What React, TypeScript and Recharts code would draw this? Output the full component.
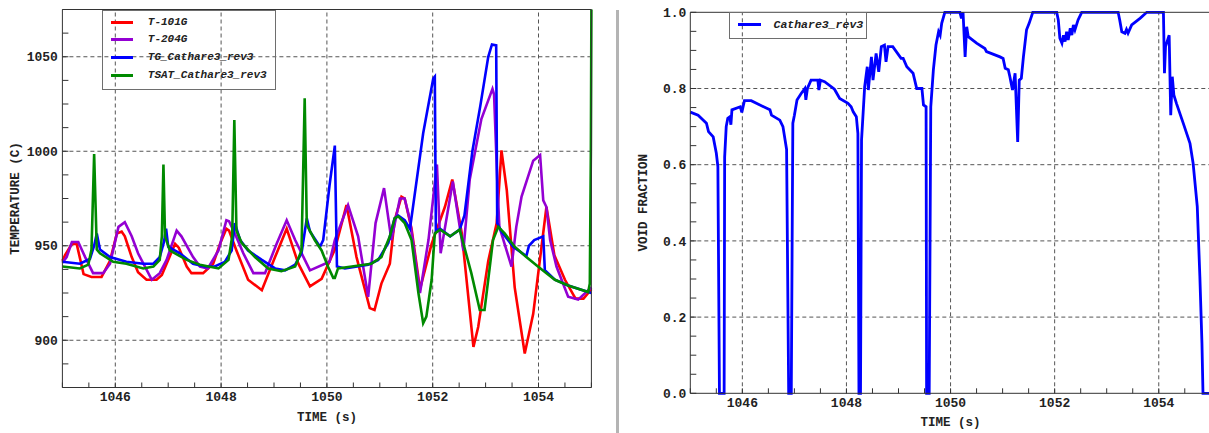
import { LineChart, Line, XAxis, YAxis, ReferenceLine } from 'recharts'

// axis ticks (minor every 0.5 s / 12.5 C / 0.05, labels on the majors)
const TIME_TICKS = [
  1045, 1045.5, 1046, 1046.5, 1047, 1047.5, 1048, 1048.5, 1049, 1049.5, 1050,
  1050.5, 1051, 1051.5, 1052, 1052.5, 1053, 1053.5, 1054, 1054.5, 1055,
]
const TIME_MAJOR = [1046, 1048, 1050, 1052, 1054]
const TEMP_TICKS = [
  875, 887.5, 900, 912.5, 925, 937.5, 950, 962.5, 975, 987.5, 1000, 1012.5,
  1025, 1037.5, 1050, 1062.5, 1075,
]
const TEMP_MAJOR = [900, 950, 1000, 1050]
const VOID_TICKS = [
  0, 0.05, 0.1, 0.15, 0.2, 0.25, 0.3, 0.35, 0.4, 0.45, 0.5, 0.55, 0.6, 0.65,
  0.7, 0.75, 0.8, 0.85, 0.9, 0.95, 1,
]
const VOID_MAJOR = [0, 0.2, 0.4, 0.6, 0.8, 1]
const VOID_GRID = [0.2, 0.4, 0.6, 0.8]

// [time (s), temperature (C)]
const T_101G = [
  [1045.0, 942], [1045.05, 945], [1045.18, 951], [1045.27, 951], [1045.4, 935],
  [1045.55, 933.5], [1045.74, 933.5], [1045.9, 942], [1046.03, 956.5], [1046.12, 957.5],
  [1046.18, 955], [1046.31, 944], [1046.43, 936], [1046.59, 932], [1046.78, 932],
  [1046.88, 934.5], [1046.97, 940.5], [1047.13, 951], [1047.2, 949], [1047.35, 939],
  [1047.44, 935.5], [1047.66, 935.5], [1047.85, 940.5], [1047.98, 951], [1048.1, 959],
  [1048.15, 958], [1048.29, 947.5], [1048.51, 932], [1048.77, 926.5], [1049.02, 944],
  [1049.24, 959], [1049.46, 940.5], [1049.68, 928.5], [1049.9, 932.5], [1050.15, 948],
  [1050.37, 971.5], [1050.56, 944], [1050.81, 917], [1050.9, 916], [1051.03, 930],
  [1051.19, 940.5], [1051.28, 963.5], [1051.41, 976], [1051.47, 975], [1051.6, 959],
  [1051.76, 927], [1051.98, 951], [1052.23, 970.5], [1052.37, 985], [1052.55, 956.5],
  [1052.77, 896.5], [1052.86, 907], [1053.05, 942], [1053.21, 962], [1053.3, 1000.5],
  [1053.4, 979.5], [1053.55, 928], [1053.74, 893], [1053.9, 914], [1054.15, 970.5],
  [1054.3, 945], [1054.5, 932], [1054.7, 922], [1054.85, 922], [1055.0, 927],
]
const T_204G = [
  [1045.0, 941], [1045.08, 944], [1045.18, 952], [1045.3, 952], [1045.43, 944],
  [1045.58, 935.5], [1045.77, 935.5], [1045.9, 940.5], [1046.06, 960], [1046.18, 962.5],
  [1046.31, 955], [1046.43, 946], [1046.69, 932], [1046.84, 935.5], [1046.97, 942.5],
  [1047.16, 958], [1047.25, 955], [1047.47, 944], [1047.6, 939], [1047.75, 938],
  [1047.95, 947.5], [1048.1, 963.5], [1048.15, 963], [1048.26, 956.5], [1048.42, 946],
  [1048.61, 935.5], [1048.83, 935.5], [1049.05, 951], [1049.24, 963.5], [1049.4, 953],
  [1049.68, 937], [1050.05, 941.5], [1050.15, 953], [1050.4, 971.5], [1050.59, 955],
  [1050.78, 923], [1050.92, 962], [1051.08, 980.5], [1051.22, 953], [1051.38, 975],
  [1051.47, 975], [1051.57, 963.5], [1051.76, 925], [1051.92, 953], [1052.08, 993],
  [1052.15, 946], [1052.38, 984], [1052.58, 947.5], [1052.7, 985], [1052.92, 1017],
  [1053.13, 1033], [1053.16, 1030], [1053.22, 985], [1053.26, 960], [1053.49, 939],
  [1053.58, 960], [1053.68, 976], [1053.9, 995], [1054.03, 998], [1054.09, 974],
  [1054.15, 970.5], [1054.22, 953], [1054.34, 939], [1054.56, 923], [1054.75, 921.5],
  [1054.94, 926.5], [1055.0, 928],
]
const TG_CATHARE = [
  [1045.0, 941.5], [1045.33, 940.5], [1045.52, 943], [1045.6, 950], [1045.65, 956.5],
  [1045.71, 948], [1045.9, 944], [1046.21, 941.5], [1046.53, 940.5], [1046.72, 940.5],
  [1046.84, 944], [1046.92, 952], [1046.96, 959], [1047.0, 949.5], [1047.22, 946],
  [1047.47, 940.5], [1047.69, 939], [1047.88, 939], [1048.07, 941.5], [1048.2, 947.5],
  [1048.26, 962], [1048.36, 953], [1048.51, 947.5], [1048.77, 942.5], [1049.02, 938],
  [1049.21, 937], [1049.4, 940], [1049.52, 946], [1049.62, 964.5], [1049.68, 957.5],
  [1049.87, 949.5], [1049.93, 953], [1049.98, 965], [1050.05, 982], [1050.15, 1003],
  [1050.19, 939], [1050.34, 938], [1050.78, 940], [1050.97, 942.5], [1051.16, 951.5],
  [1051.28, 964.5], [1051.35, 966], [1051.47, 963.5], [1051.57, 959], [1051.6, 965],
  [1051.82, 1009.5], [1052.01, 1038.5], [1052.04, 1039.5], [1052.06, 958], [1052.14, 959],
  [1052.33, 955], [1052.51, 958.5], [1052.6, 966], [1052.75, 1000], [1052.9, 1024],
  [1053.05, 1050], [1053.12, 1056.5], [1053.2, 1056], [1053.22, 962], [1053.3, 957.5],
  [1053.52, 949.5], [1053.77, 944.5], [1053.82, 950], [1053.92, 953], [1054.09, 955],
  [1054.12, 937], [1054.31, 932], [1054.56, 929], [1054.94, 925.5], [1055.0, 925],
]
const TSAT_CATHARE = [
  [1045.0, 939], [1045.33, 938], [1045.49, 940], [1045.55, 948], [1045.6, 998.5],
  [1045.65, 948], [1045.71, 946], [1045.96, 941.5], [1046.21, 940.5], [1046.53, 938],
  [1046.72, 939], [1046.84, 942.5], [1046.88, 955], [1046.91, 993], [1046.94, 955],
  [1047.03, 947.5], [1047.35, 942.5], [1047.6, 940], [1047.95, 938], [1048.14, 942.5],
  [1048.21, 955], [1048.25, 1016.5], [1048.29, 958], [1048.39, 951.5], [1048.64, 944],
  [1048.89, 938], [1049.14, 936.5], [1049.4, 939], [1049.52, 947.5], [1049.58, 1028],
  [1049.62, 961], [1049.77, 953], [1049.9, 947.5], [1050.02, 939], [1050.12, 933],
  [1050.15, 933], [1050.21, 938], [1050.47, 939], [1050.84, 940.5], [1051.03, 944],
  [1051.19, 955], [1051.28, 964.5], [1051.35, 965.5], [1051.47, 962], [1051.6, 953],
  [1051.73, 925], [1051.82, 909], [1051.88, 912.5], [1051.98, 932], [1052.04, 956.5],
  [1052.14, 958.5], [1052.33, 955], [1052.51, 958.5], [1052.73, 935.5], [1052.89, 916],
  [1052.98, 916], [1053.08, 939], [1053.14, 953], [1053.24, 960], [1053.36, 956.5],
  [1053.55, 949.5], [1053.77, 944], [1053.99, 939], [1054.15, 935.5], [1054.31, 932],
  [1054.56, 929], [1054.94, 925.5], [1054.97, 930], [1054.99, 1000], [1055.0, 1075],
]

// [time (s), void fraction]
const VOID_CATHARE = [
  [1045.0, 0.738], [1045.15, 0.73], [1045.31, 0.709], [1045.35, 0.687], [1045.44, 0.673],
  [1045.5, 0.63], [1045.53, 0.595], [1045.56, 0], [1045.65, 0], [1045.66, 0.62],
  [1045.69, 0.7], [1045.72, 0.722], [1045.76, 0.726], [1045.78, 0.705], [1045.8, 0.744],
  [1045.96, 0.752], [1045.99, 0.737], [1046.04, 0.768], [1046.17, 0.768], [1046.53, 0.744],
  [1046.56, 0.73], [1046.72, 0.717], [1046.78, 0.7], [1046.85, 0.64], [1046.89, 0],
  [1046.94, 0], [1046.97, 0.709], [1047.0, 0.73], [1047.05, 0.77], [1047.13, 0.787],
  [1047.2, 0.8], [1047.22, 0.77], [1047.25, 0.8], [1047.32, 0.822], [1047.45, 0.822],
  [1047.47, 0.796], [1047.5, 0.822], [1047.58, 0.818], [1047.77, 0.798], [1047.87, 0.774],
  [1048.03, 0.761], [1048.09, 0.752], [1048.13, 0.739], [1048.19, 0.726], [1048.22, 0.682],
  [1048.24, 0], [1048.27, 0], [1048.29, 0.665], [1048.35, 0.805], [1048.4, 0.857],
  [1048.42, 0.796], [1048.48, 0.883], [1048.51, 0.822], [1048.57, 0.892], [1048.62, 0.844],
  [1048.67, 0.91], [1048.73, 0.914], [1048.76, 0.87], [1048.8, 0.91], [1048.89, 0.91],
  [1049.05, 0.879], [1049.09, 0.879], [1049.16, 0.857], [1049.28, 0.84], [1049.35, 0.8],
  [1049.45, 0.8], [1049.48, 0.757], [1049.53, 0.752], [1049.54, 0], [1049.59, 0],
  [1049.62, 0.752], [1049.67, 0.849], [1049.72, 0.914], [1049.77, 0.949], [1049.8, 0.94],
  [1049.83, 0.971], [1049.89, 1.0], [1050.18, 1.0], [1050.21, 0.984], [1050.24, 1.0],
  [1050.28, 0.883], [1050.31, 0.962], [1050.34, 0.936], [1050.5, 0.919], [1050.66, 0.905],
  [1050.69, 0.897], [1050.95, 0.883], [1051.01, 0.879], [1051.05, 0.853], [1051.11, 0.849],
  [1051.14, 0.831], [1051.19, 0.796], [1051.24, 0.84], [1051.29, 0.66], [1051.32, 0.822],
  [1051.36, 0.827], [1051.4, 0.883], [1051.46, 0.954], [1051.51, 0.971], [1051.58, 1.0],
  [1052.04, 1.0], [1052.07, 0.98], [1052.1, 0.932], [1052.14, 0.919], [1052.17, 0.94],
  [1052.2, 0.923], [1052.23, 0.949], [1052.26, 0.927], [1052.3, 0.958], [1052.33, 0.94],
  [1052.36, 0.967], [1052.39, 0.954], [1052.45, 0.98], [1052.52, 1.0], [1053.22, 1.0],
  [1053.25, 0.98], [1053.29, 0.949], [1053.35, 0.945], [1053.38, 0.955], [1053.41, 0.945],
  [1053.48, 0.967], [1053.64, 0.984], [1053.77, 1.0], [1054.09, 1.0], [1054.11, 0.84],
  [1054.13, 0.91], [1054.2, 0.94], [1054.23, 0.73], [1054.26, 0.831], [1054.29, 0.783],
  [1054.34, 0.761], [1054.47, 0.709], [1054.6, 0.656], [1054.66, 0.604], [1054.74, 0.49],
  [1054.79, 0.306], [1054.83, 0.131], [1054.85, 0], [1055.0, 0],
]

const TEMP_SERIES = [
  { name: 'T-101G', color: '#ff0000', data: T_101G },
  { name: 'T-204G', color: '#9400d3', data: T_204G },
  { name: 'TG_Cathare3_rev3', color: '#0000ff', data: TG_CATHARE },
  { name: 'TSAT_Cathare3_rev3', color: '#008a00', data: TSAT_CATHARE },
]
const VOID_SERIES = [{ name: 'Cathare3_rev3', color: '#0000ff', data: VOID_CATHARE }]

const toPoints = (rows: number[][]) => rows.map(([t, v]) => ({ t, v }))

const MONO = "'Liberation Mono', 'DejaVu Sans Mono', monospace"
const tickStyle = { fill: '#222', fontSize: 13, fontFamily: MONO, fontWeight: 'bold' as const }
const titleStyle = { fontSize: 12.5, fontFamily: MONO, fontWeight: 'bold' as const, fill: '#222' }
const AXIS = '#333'
const GRID = '#555'

const isIn = (list: number[], v: number) => list.some((m) => Math.abs(m - v) < 1e-9)
const timeFmt = (v: number) => (isIn(TIME_MAJOR, v) ? String(v) : '')
const tempFmt = (v: number) => (isIn(TEMP_MAJOR, v) ? String(v) : '')
const voidFmt = (v: number) => (isIn(VOID_MAJOR, v) ? v.toFixed(1) : '')
const blank = () => ''

function LegendBox({
  items,
  left,
  top,
  width,
  height,
  rowTop,
  rowGap,
  lineLeft,
  lineWidth,
  textLeft,
  fontSize,
}: {
  items: { name: string; color: string }[]
  left: number
  top: number
  width: number
  height: number
  rowTop: number
  rowGap: number
  lineLeft: number
  lineWidth: number
  textLeft: number
  fontSize: number
}) {
  return (
    <div
      style={{
        position: 'absolute',
        left,
        top,
        width,
        height,
        border: '1.5px solid #6e6e6e',
        boxSizing: 'border-box',
      }}
    >
      {items.map((s, i) => {
        const cy = rowTop + i * rowGap
        return (
          <div key={s.name}>
            <div
              style={{
                position: 'absolute',
                left: lineLeft,
                top: cy - 1.5,
                width: lineWidth,
                height: 3,
                background: s.color,
              }}
            />
            <div
              style={{
                position: 'absolute',
                left: textLeft,
                top: cy - fontSize / 2 - 1,
                fontFamily: MONO,
                fontSize,
                lineHeight: `${fontSize + 2}px`,
                fontWeight: 'bold',
                fontStyle: 'italic',
                color: '#222',
                whiteSpace: 'nowrap',
              }}
            >
              {s.name}
            </div>
          </div>
        )
      })}
    </div>
  )
}

function TemperatureChart() {
  return (
    <LineChart width={600} height={433} margin={{ top: 9.5, right: 8.6, bottom: 0, left: 0 }}>
      <XAxis
        dataKey="t"
        type="number"
        domain={[1045, 1055]}
        ticks={TIME_TICKS}
        interval={0}
        tickFormatter={timeFmt}
        tickSize={-5}
        tickMargin={9.5}
        height={45.5}
        stroke={AXIS}
        tick={tickStyle}
        label={{ value: 'TIME (s)', position: 'insideBottom', offset: 12.5, style: titleStyle }}
      />
      <XAxis
        xAxisId="top"
        orientation="top"
        mirror
        type="number"
        domain={[1045, 1055]}
        ticks={TIME_TICKS}
        interval={0}
        tickFormatter={blank}
        tickSize={5}
        stroke={AXIS}
      />
      <YAxis
        type="number"
        domain={[875, 1075]}
        ticks={TEMP_TICKS}
        interval={0}
        tickFormatter={tempFmt}
        tickSize={-6}
        tickMargin={10.5}
        width={62.4}
        stroke={AXIS}
        tick={tickStyle}
        label={{
          value: 'TEMPERATURE (C)',
          angle: -90,
          position: 'insideLeft',
          offset: 15,
          style: { ...titleStyle, textAnchor: 'middle' },
        }}
      />
      <YAxis
        yAxisId="right"
        orientation="right"
        mirror
        type="number"
        domain={[875, 1075]}
        ticks={TEMP_TICKS}
        interval={0}
        tickFormatter={blank}
        tickSize={6}
        stroke={AXIS}
      />
      {TIME_MAJOR.map((x) => (
        <ReferenceLine key={`x${x}`} x={x} stroke={GRID} strokeDasharray="4 3" />
      ))}
      {TEMP_MAJOR.map((y) => (
        <ReferenceLine key={`y${y}`} y={y} stroke={GRID} strokeDasharray="4 3" />
      ))}
      {TEMP_SERIES.map((s) => (
        <Line
          key={s.name}
          data={toPoints(s.data)}
          dataKey="v"
          name={s.name}
          type="linear"
          stroke={s.color}
          strokeWidth={2.6}
          dot={false}
          activeDot={false}
          isAnimationActive={false}
        />
      ))}
    </LineChart>
  )
}

function VoidChart() {
  return (
    <LineChart width={594} height={433} margin={{ top: 12.3, right: 1.2, bottom: 0, left: 0 }}>
      <XAxis
        dataKey="t"
        type="number"
        domain={[1045, 1055]}
        ticks={TIME_TICKS}
        interval={0}
        tickFormatter={timeFmt}
        tickSize={-5}
        tickMargin={9.5}
        height={39.7}
        stroke={AXIS}
        tick={tickStyle}
        label={{ value: 'TIME (s)', position: 'insideBottom', offset: 7, style: titleStyle }}
      />
      <XAxis
        xAxisId="top"
        orientation="top"
        mirror
        type="number"
        domain={[1045, 1055]}
        ticks={TIME_TICKS}
        interval={0}
        tickFormatter={blank}
        tickSize={5}
        stroke={AXIS}
      />
      <YAxis
        type="number"
        domain={[0, 1]}
        ticks={VOID_TICKS}
        interval={0}
        tickFormatter={voidFmt}
        tickSize={-6}
        tickMargin={10}
        width={72.3}
        stroke={AXIS}
        tick={tickStyle}
        label={{
          value: 'VOID FRACTION',
          angle: -90,
          position: 'insideLeft',
          offset: 24.5,
          style: { ...titleStyle, textAnchor: 'middle' },
        }}
      />
      <YAxis
        yAxisId="right"
        orientation="right"
        mirror
        type="number"
        domain={[0, 1]}
        ticks={VOID_TICKS}
        interval={0}
        tickFormatter={blank}
        tickSize={5}
        stroke={AXIS}
      />
      {TIME_MAJOR.map((x) => (
        <ReferenceLine key={`x${x}`} x={x} stroke={GRID} strokeDasharray="4 3" />
      ))}
      {VOID_GRID.map((y) => (
        <ReferenceLine key={`y${y}`} y={y} stroke={GRID} strokeDasharray="4 3" />
      ))}
      {VOID_SERIES.map((s) => (
        <Line
          key={s.name}
          data={toPoints(s.data)}
          dataKey="v"
          name={s.name}
          type="linear"
          stroke={s.color}
          strokeWidth={2.8}
          dot={false}
          activeDot={false}
          isAnimationActive={false}
        />
      ))}
    </LineChart>
  )
}

export default function App() {
  return (
    <div
      style={{
        position: 'absolute',
        left: 0,
        top: 0,
        width: 1209,
        height: 433,
        overflow: 'hidden',
        background: '#fff',
      }}
    >
      <div style={{ position: 'absolute', left: 0, top: 0 }}>
        <TemperatureChart />
      </div>
      <LegendBox
        items={TEMP_SERIES}
        left={101.7}
        top={9.5}
        width={174}
        height={80.5}
        rowTop={11.7}
        rowGap={17.75}
        lineLeft={8.5}
        lineWidth={21.6}
        textLeft={45.1}
        fontSize={11}
      />
      <div
        style={{ position: 'absolute', left: 616, top: 10, width: 3, height: 423, background: '#b4b4b4' }}
      />
      <div style={{ position: 'absolute', left: 618, top: 0 }}>
        <VoidChart />
      </div>
      <LegendBox
        items={VOID_SERIES}
        left={729}
        top={12.3}
        width={138.3}
        height={27}
        rowTop={11.2}
        rowGap={0}
        lineLeft={8.2}
        lineWidth={22.6}
        textLeft={43.5}
        fontSize={11.5}
      />
    </div>
  )
}
